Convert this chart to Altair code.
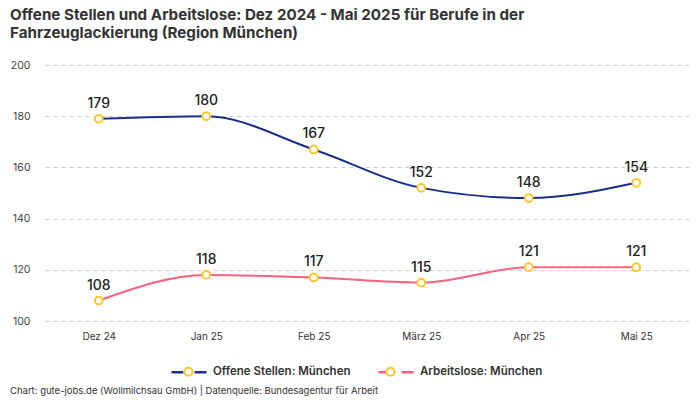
import altair as alt
import pandas as pd

months = ["Dez 24", "Jan 25", "Feb 25", "März 25", "Apr 25", "Mai 25"]
offene = [179, 180, 167, 152, 148, 154]
arbeitslose = [108, 118, 117, 115, 121, 121]
series_names = ["Offene Stellen: München", "Arbeitslose: München"]
series_colors = ["#1b2e8f", "#f7637b"]
yellow = "#ffc62a"
FONT = "Inter"

rows = []
for m, v in zip(months, offene):
    rows.append({"Monat": m, "Wert": v, "Reihe": series_names[0]})
for m, v in zip(months, arbeitslose):
    rows.append({"Monat": m, "Wert": v, "Reihe": series_names[1]})
df = pd.DataFrame(rows)

x = alt.X("Monat:N", sort=months, title=None,
          scale=alt.Scale(type="point", padding=0.5),
          axis=alt.Axis(labelAngle=0, ticks=False, domain=False, grid=False,
                        labelFontSize=10, labelColor="#333", labelPadding=10, labelFont=FONT))
y = alt.Y("Wert:Q", title=None,
          scale=alt.Scale(domain=[100, 200], nice=False, zero=False),
          axis=alt.Axis(values=[100, 120, 140, 160, 180, 200], ticks=False, domain=False,
                        grid=True, gridDash=[4, 4], gridColor="#cccccc", gridWidth=1,
                        labelFontSize=10.5, labelColor="#444", labelPadding=15, labelFont=FONT))

gap_path = "M -1 0 H -0.32 M 0.32 0 H 1"
circle_path = "M -0.23 0 A 0.23 0.23 0 1 0 0.23 0 A 0.23 0.23 0 1 0 -0.23 0 Z"

legend_common = dict(orient="none", direction="horizontal", legendX=125, legendY=288,
                     title=None, symbolSize=1225, labelFontSize=11.5, labelFontWeight=600,
                     labelFont=FONT, labelColor="#333", columnPadding=22, labelOffset=5)

color = alt.Color("Reihe:N", sort=series_names,
                  scale=alt.Scale(domain=series_names, range=series_colors),
                  legend=alt.Legend(symbolType=gap_path, symbolStrokeWidth=2.5, **legend_common))

base = alt.Chart(df)

lines = base.mark_line(interpolate="monotone", strokeWidth=2).encode(x=x, y=y, color=color)

points = base.mark_point(filled=True, size=60, stroke=yellow, strokeWidth=2, opacity=1).encode(
    x=x, y=y,
    fill=alt.Fill("Reihe:N", sort=series_names,
                  scale=alt.Scale(domain=series_names, range=["white", "white"]),
                  legend=alt.Legend(symbolType=circle_path, symbolStrokeColor=yellow,
                                    symbolStrokeWidth=2, labelOpacity=0, zindex=2,
                                    **legend_common)),
)

labels = base.mark_text(dy=-15, fontSize=14, fontWeight=500, color="#222", font=FONT).encode(
    x=x, y=y, text="Wert:Q")

footer = alt.Chart(pd.DataFrame({"t": ["Chart: gute-jobs.de (Wollmilchsau GmbH) | Datenquelle: Bundesagentur für Arbeit"]})).mark_text(
    align="left", baseline="middle", fontSize=9.5, color="#333", font=FONT
).encode(x=alt.value(-35), y=alt.value(326), text="t:N")

chart = alt.layer(lines, points, labels, footer).properties(
    width=645, height=256,
    autosize=alt.AutoSizeParams(type="none"),
    padding={"left": 37, "top": 57, "right": 0, "bottom": 75},
    title=alt.TitleParams(
        text=["Offene Stellen und Arbeitslose: Dez 2024 - Mai 2025 für Berufe in der",
              "Fahrzeuglackierung (Region München)"],
        anchor="start", frame="bounds", fontSize=15.2, fontWeight="bold", color="#333",
        font=FONT, lineHeight=18, offset=18.5),
).configure_view(stroke=None).resolve_scale(color="independent")

chart.save("out.html", embed_options={"renderer": "svg", "actions": False})
